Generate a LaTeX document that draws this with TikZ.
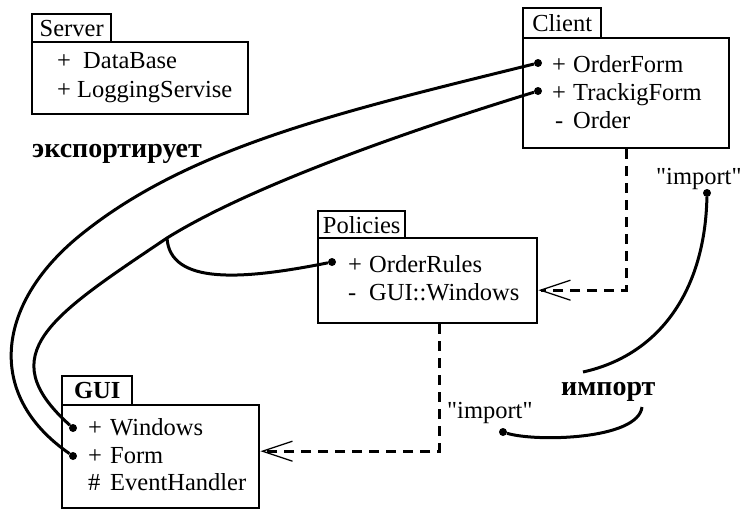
\documentclass[tikz,border=0pt]{standalone}
\usepackage{fontspec}
\setmainfont{Liberation Serif}[Ligatures=TeXOff]
\usetikzlibrary{arrows.meta}
\newcommand{\member}[3][21pt]{\makebox[#1][l]{#2}#3}

\begin{document}
\begin{tikzpicture}[x=1pt, y=-1pt,
  every node/.style={font=\fontsize{24.5}{28}\selectfont},
  tabbox/.style={rectangle, draw, line width=2.4pt, anchor=north west, inner sep=0pt},
  body/.style={rectangle, draw, line width=2.4pt, anchor=north west, inner sep=0pt},
  mem/.style={anchor=base west, inner sep=0pt},
  dot/.style={circle, fill, inner sep=0pt, minimum size=8pt},
  link/.style={line width=3pt},
  dep/.style={line width=3pt, dash pattern=on 10pt off 7pt, -{Straight Barb[length=30pt, width=20pt, line width=1.3pt]}},
  note/.style={font=\fontsize{28}{30}\selectfont\bfseries, anchor=base west, inner sep=0pt},
]
  \useasboundingbox (0,0) rectangle (743,509);

  \node[tabbox, minimum width=79pt, minimum height=28pt] (srvtab) at (31,13) {Server};
  \node[body, minimum width=216pt, minimum height=72pt] (srv) at (31,41) {};
  \node[mem] (srv1) at (57,68) {\member[26pt]{+}{DataBase}};
  \node[mem] (srv2) at (57,97) {\member[20pt]{+}{LoggingServise}};

  \node[tabbox, minimum width=78pt, minimum height=30pt] (clttab) at (522,7) {Client};
  \node[body, minimum width=206pt, minimum height=110pt] (clt) at (522,37) {};
  \node[mem] (clt1) at (552,72) {\member{+}{OrderForm}};
  \node[mem] (clt2) at (552,100) {\member{+}{TrackigForm}};
  \node[mem] (clt3) at (555,128) {\member[18pt]{-}{Order}};

  \node[tabbox, minimum width=87pt, minimum height=27pt] (poltab) at (317,210) {Policies};
  \node[body, minimum width=219pt, minimum height=85pt] (pol) at (317,237) {};
  \node[mem] (pol1) at (348,272) {\member{+}{OrderRules}};
  \node[mem] (pol2) at (348,300) {\member{-}{GUI::Windows}};

  \node[tabbox, minimum width=70pt, minimum height=29pt, font=\fontsize{24.5}{28}\selectfont\bfseries] (guitab) at (61,375) {GUI};
  \node[body, minimum width=197pt, minimum height=103pt] (gui) at (61,404) {};
  \node[mem] (gui1) at (88,435) {\member[22pt]{+}{Windows}};
  \node[mem] (gui2) at (88,463) {\member[22pt]{+}{Form}};
  \node[mem] (gui3) at (88,490) {\member[22pt]{\#}{EventHandler}};

  \node[note] (exp) at (32,157) {экспортирует};
  \node[note] (imp) at (561,395) {импорт};
  \node[mem] (lblup) at (656,184) {"import"};
  \node[mem] (lbllow) at (447,418) {"import"};

  \node[dot] (cof) at (538,63) {};
  \node[dot] (ctf) at (538,91) {};
  \node[dot] (por) at (332,262) {};
  \node[dot] (gwin) at (73,428) {};
  \node[dot] (gform) at (73,456) {};
  \node[dot] (impup) at (707,193) {};
  \node[dot] (implow) at (503,432) {};
  \coordinate (ia) at (583,372);
  \coordinate (ib) at (642,407);

  \draw[link] (cof) .. controls (344,111) and (192,146) .. (83,233) .. controls (-3,301) and (-17,394) .. (gform);
  \draw[link] (ctf) .. controls (414,129) and (252,185) .. (167,238) coordinate (br) .. controls (51,316) and (-9.5,354) .. (gwin);
  \draw[link] (br) .. controls (170,285) and (242,280) .. (por);
  \draw[link] (impup) .. controls (705,290) and (660,355) .. (ia);
  \draw[link] (implow) .. controls (535,442) and (638,440) .. (ib);

  \draw[dep] (clt.south) |- ([yshift=-9.5pt]pol.east);
  \draw[dep] ([xshift=11.5pt]pol.south) |- ([yshift=5.5pt]gui.east);
\end{tikzpicture}
\end{document}
